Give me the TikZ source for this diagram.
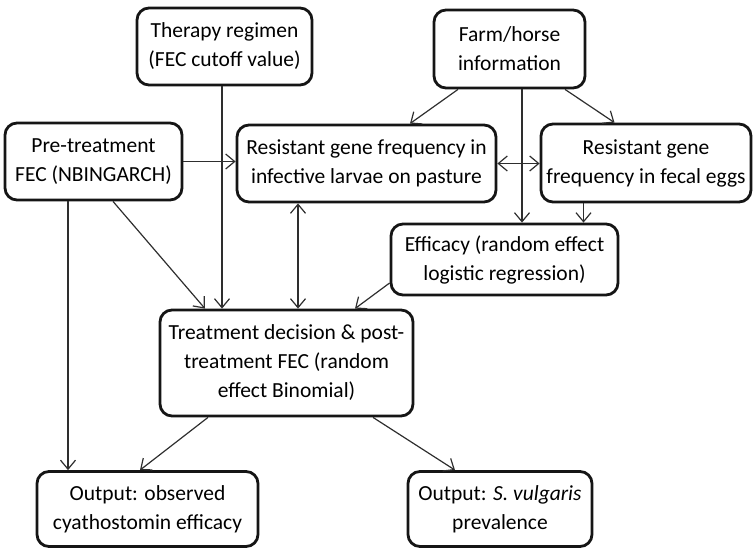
\documentclass[tikz,border=0pt]{standalone}
\usepackage{fontspec}
\setmainfont{Carlito}
\usepackage{tikz}
\usepackage{xcolor}
\definecolor{BoxLine}{HTML}{151515}
\definecolor{ArrowLine}{HTML}{2E2E2E}
\usetikzlibrary{arrows.meta, positioning, calc}

\begin{document}
\begin{tikzpicture}[x=1pt, y=-1pt, align=center,
    font=\fontsize{21.5}{29}\selectfont,
    box/.style={draw=BoxLine, line width=2.8pt, rounded corners=12pt, fill=white, inner sep=2pt},
    link/.style={draw=ArrowLine, line width=1.2pt, -{Straight Barb[length=9pt, width=15pt]}},
    both/.style={link, {Straight Barb[length=9pt, width=15pt]}-{Straight Barb[length=9pt, width=15pt]}}]
    \useasboundingbox (0,0) rectangle (753,549);

    % Inputs
    \node (therapy) [box, minimum width=175pt, minimum height=77pt] at (224.5,46.5) {Therapy regimen\\(FEC cutoff value)};
    \node (farm) [box, minimum width=151pt, minimum height=78pt] at (509.5,49) {Farm/horse\\information};
    \node (pretreat) [box, minimum width=177pt, minimum height=77pt] at (93.5,161.5) {Pre-treatment\\FEC (NBINGARCH)};

    % Gene frequencies
    \node (larvae) [box, minimum width=259pt, minimum height=77pt] at (366.5,163.5) {Resistant gene frequency in\\infective larvae on pasture};
    \node (eggs) [box, minimum width=210pt, minimum height=78pt] at (646,163) {Resistant gene\\frequency in fecal eggs};
    \node (efficacy) [box, minimum width=227pt, minimum height=71pt] at (504.5,259.5) {Efficacy (random effect\\logistic regression)};

    % Treatment and outputs
    \node (treatment) [box, minimum width=253pt, minimum height=106pt] at (286.5,363) {Treatment decision \& post-\\treatment FEC (random\\effect Binomial)};
    \node (observed) [box, minimum width=221pt, minimum height=75pt] at (147.5,509) {Output: observed\\cyathostomin efficacy};
    \node (prevalence) [box, minimum width=184pt, minimum height=75pt] at (500,509) {Output: \textit{S. vulgaris}\\prevalence};

    % Arrows from the inputs
    \draw[link] ([xshift=-2.5]therapy.south) -- ([xshift=-2.5]therapy.south |- treatment.north);
    \draw[link] (pretreat.east) -- (pretreat.east -| larvae.west);
    \draw[link] ([xshift=-25.5]pretreat.south) -- ([xshift=-25.5]pretreat.south |- observed.north);
    \draw[link] ([xshift=19.5]pretreat.south) -- ([xshift=-81.5]treatment.north);
    \draw[link] ([xshift=-51.5]farm.south) -- ([xshift=43.5]larvae.north);
    \draw[link] ([xshift=12.5]farm.south) -- ([xshift=12.5]farm.south |- efficacy.north);
    \draw[link] ([xshift=55.5]farm.south) -- ([xshift=-31.5]eggs.north);

    % Links between the middle boxes
    \draw[both] (larvae.east) -- (larvae.east -| eggs.west);
    \draw[both] ([xshift=-68.5]larvae.south) -- ([xshift=-68.5]larvae.south |- treatment.north);
    \draw[link] ([xshift=-62.5]eggs.south) -- ([xshift=-62.5]eggs.south |- efficacy.north);
    \draw[link] ([yshift=-23.5]efficacy.west) -- ([xshift=68.5]treatment.north);

    % Outputs
    \draw[link] ([xshift=-78.5]treatment.south) -- ([xshift=-7.5]observed.north);
    \draw[link] ([xshift=86.5]treatment.south) -- ([xshift=-45]prevalence.north);
\end{tikzpicture}
\end{document}
